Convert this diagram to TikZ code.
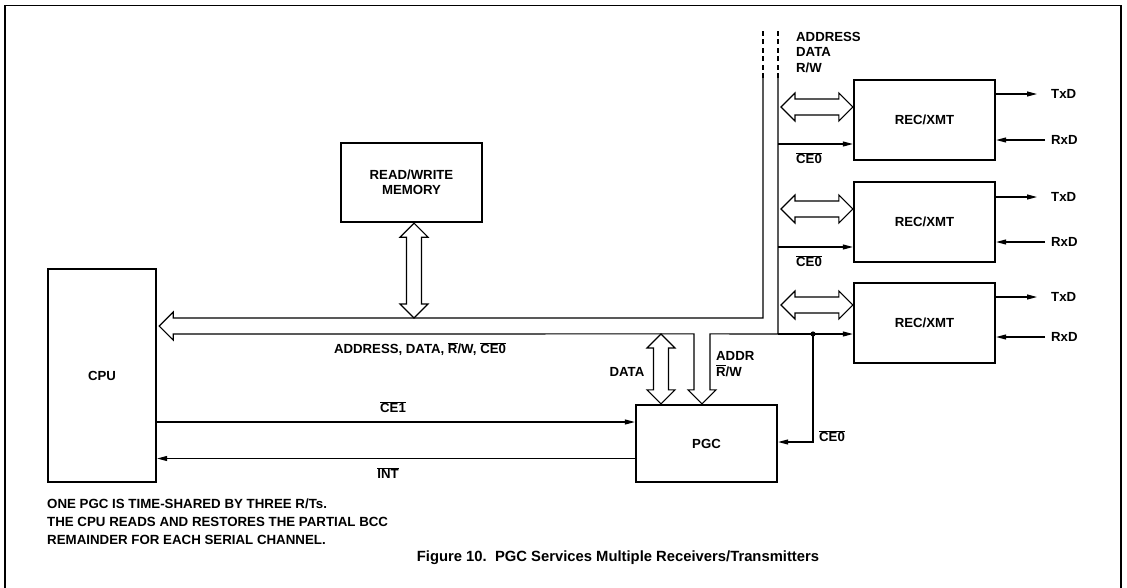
\documentclass[tikz,border=0pt]{standalone}
\usepackage{fontspec}
\setmainfont{Liberation Sans}
\usetikzlibrary{arrows.meta,positioning,calc}

\newcommand{\lblfont}{\bfseries\fontsize{13.2}{15.5}\selectfont}
\newcommand{\ovl}[1]{$\overline{\mbox{#1}}$}

% fat outlined double arrows, tips at #1 and #2
\newcommand{\hfat}[2]{%
  \draw[busline] let \p1=#1, \p2=#2 in
    (\x1,\y1) -- (\x1+14pt,\y1+14pt) -- (\x1+14pt,\y1+8pt) -- (\x2-14pt,\y1+8pt)
    -- (\x2-14pt,\y1+14pt) -- (\x2,\y1) -- (\x2-14pt,\y1-14pt) -- (\x2-14pt,\y1-8pt)
    -- (\x1+14pt,\y1-8pt) -- (\x1+14pt,\y1-14pt) -- cycle;}
\newcommand{\vfat}[2]{%
  \draw[busline] let \p1=#1, \p2=#2 in
    (\x1,\y1) -- (\x1+14pt,\y1-14pt) -- (\x1+7.5pt,\y1-14pt) -- (\x1+7.5pt,\y2+14pt)
    -- (\x1+14pt,\y2+14pt) -- (\x1,\y2) -- (\x1-14pt,\y2+14pt) -- (\x1-7.5pt,\y2+14pt)
    -- (\x1-7.5pt,\y1-14pt) -- (\x1-14pt,\y1-14pt) -- cycle;}

\tikzset{
  box/.style={draw, line width=2.3pt, minimum width=141pt, minimum height=80pt,
    inner sep=0pt, align=center, font=\lblfont},
  lbl/.style={inner sep=1pt, font=\lblfont},
  note/.style={inner sep=0pt, align=left, font=\bfseries\fontsize{13.3}{18}\selectfont},
  sig/.style={line width=1.1pt, ->},
  busline/.style={line width=1.2pt, line join=miter},
}

\begin{document}
\begin{tikzpicture}[x=1pt, y=-1pt, >={Triangle[length=10pt,width=5pt]}]
\useasboundingbox (0,0) rectangle (1127,587);

% frame
\draw[line width=1.2pt] (5,595) -- (5,5.5) -- (1121,5.5) -- (1121,595);

% blocks
\node[box, minimum width=108pt, minimum height=213pt] (cpu) at (102,375.5) {CPU};
\node[box, minimum height=79pt] (mem) at (411.5,182.5) {READ/WRITE\\MEMORY};
\node[box, minimum height=77pt] (pgc) at (706.5,443.5) {PGC};
\node[box] (rx1) at (924.5,120) {REC/XMT};
\node[box] (rx2) at (924.5,222) {REC/XMT};
\node[box] (rx3) at (924.5,323) {REC/XMT};

% bus corners
\coordinate (busL) at (763,78);
\coordinate (busR) at (778,78);
\coordinate (busUp) at (763,318);
\coordinate (busLo) at (778,334);
\coordinate (cpuTip) at ($(cpu.east |- busUp)+(2,8)$);
\coordinate (addrTip) at ([xshift=-4.5pt]pgc.north);
\coordinate (dataTip) at ([xshift=-45.5pt]pgc.north);

% dashed bus ends
\draw[busline, dash pattern=on 5pt off 3.5pt] (busL) -- ++(0,-48);
\draw[busline, dash pattern=on 5pt off 3.5pt] (busR) -- ++(0,-48);

% system bus to cpu, with ADDR branch into pgc
\draw[busline] (busL) -- (busUp) -- ($(cpuTip)+(14,-8)$) -- ($(cpuTip)+(14,-14)$)
  -- (cpuTip) -- ($(cpuTip)+(14,14)$) -- ($(cpuTip)+(14,8)$)
  -- ($(addrTip)+(-8,-70)$) -- ($(addrTip)+(-8,-14)$) -- ($(addrTip)+(-14,-14)$)
  -- (addrTip) -- ($(addrTip)+(14,-14)$) -- ($(addrTip)+(8,-14)$)
  -- ($(addrTip)+(8,-70)$) -- (busLo) -- (busR);

% memory and data
\vfat{([xshift=2.5pt]mem.south)}{([xshift=2.5pt]mem.south |- busUp)}
\vfat{(dataTip |- busLo)}{(dataTip)}

% bus into rec/xmt
\hfat{($(rx1.west -| busR)+(3,-13)$)}{($(rx1.west)+(0,-13)$)}
\hfat{($(rx2.west -| busR)+(3,-13)$)}{($(rx2.west)+(0,-13)$)}
\hfat{($(rx3.west -| busR)+(3,-18)$)}{($(rx3.west)+(0,-18)$)}

% chip enables
\draw[sig] ($(rx1.west -| busR)+(0,24)$) -- ($(rx1.west)+(0,24)$);
\draw[sig] ($(rx2.west -| busR)+(0,25)$) -- ($(rx2.west)+(0,25)$);
\draw[sig] (busLo) -- (rx3.west |- busLo);
\coordinate (tap) at ($(busLo)+(35,0)$);
\fill (tap) circle (2.6pt);
\draw[sig] (tap) |- ($(pgc.east)+(0,-1.5)$);

% cpu <-> pgc
\coordinate (ce1y) at ($(pgc.west)+(0,-21.5)$);
\coordinate (inty) at ($(pgc.west)+(0,15)$);
\draw[sig] (cpu.east |- ce1y) -- (ce1y);
\draw[sig] (inty) -- (cpu.east |- inty);

% serial lines
\node[lbl, anchor=west] (tx1) at (1050,94) {TxD};
\node[lbl, anchor=west] (rr1) at (1050,140) {RxD};
\node[lbl, anchor=west] (tx2) at (1050,197) {TxD};
\node[lbl, anchor=west] (rr2) at (1050,242) {RxD};
\node[lbl, anchor=west] (tx3) at (1050,297) {TxD};
\node[lbl, anchor=west] (rr3) at (1050,337) {RxD};
\draw[sig] (rx1.east |- tx1) -- ([xshift=-13pt]tx1.west);
\draw[sig] ([xshift=-5pt]rr1.west) -- (rx1.east |- rr1);
\draw[sig] (rx2.east |- tx2) -- ([xshift=-13pt]tx2.west);
\draw[sig] ([xshift=-5pt]rr2.west) -- (rx2.east |- rr2);
\draw[sig] (rx3.east |- tx3) -- ([xshift=-13pt]tx3.west);
\draw[sig] ([xshift=-5pt]rr3.west) -- (rx3.east |- rr3);

% labels
\node[lbl, anchor=north west, align=left] (buslbl) at (795,31) {ADDRESS\\DATA\\R/W};
\node[lbl] (ce0a) at (809,158) {\ovl{CE0}};
\node[lbl] (ce0b) at (809,261) {\ovl{CE0}};
\node[lbl, anchor=west] (ce0c) at (818,436) {\ovl{CE0}};
\node[lbl] (syslbl) at (420,349) {ADDRESS, DATA, \ovl{R}/W, \ovl{CE0}};
\node[lbl] (datalbl) at (627,372) {DATA};
\node[lbl, anchor=west, align=left] (addrlbl) at (715,364) {ADDR\\\ovl{R}/W};
\node[lbl] (ce1lbl) at (393,407) {\ovl{CE1}};
\node[lbl] (intlbl) at (388,473) {\ovl{INT}};

% notes and caption
\node[note, anchor=north west] (notes) at (47,499)
  {ONE PGC IS TIME-SHARED BY THREE R/Ts.\\
   THE CPU READS AND RESTORES THE PARTIAL BCC\\
   REMAINDER FOR EACH SERIAL CHANNEL.};
\node[font=\bfseries\fontsize{14.8}{17}\selectfont] (caption) at (618,558)
  {Figure 10.\ \ PGC Services Multiple Receivers/Transmitters};

\end{tikzpicture}
\end{document}
